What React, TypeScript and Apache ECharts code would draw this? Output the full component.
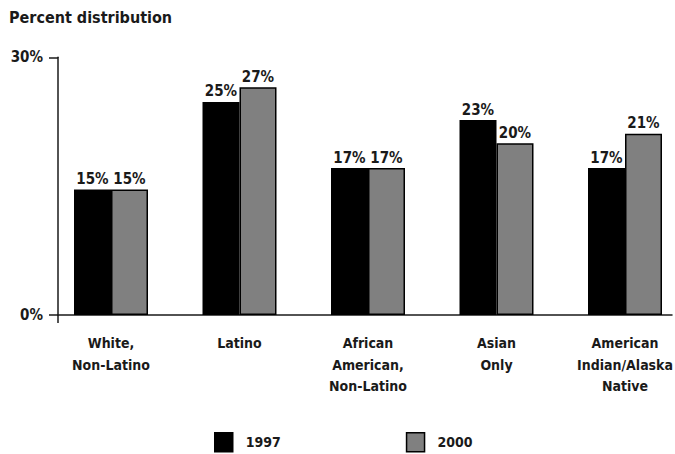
import React, { useEffect, useRef } from "react";
import * as echarts from "echarts";

const categories = [
  "White,\nNon-Latino",
  "Latino",
  "African\nAmerican,\nNon-Latino",
  "Asian\nOnly",
  "American\nIndian/Alaska\nNative",
];
// bar heights as drawn (percent)
const values1997 = [14.6, 24.8, 17.1, 22.7, 17.1];
const values2000 = [14.6, 26.5, 17.1, 20.0, 21.1];
// printed labels
const labels1997 = ["15%", "25%", "17%", "23%", "17%"];
const labels2000 = ["15%", "27%", "17%", "20%", "21%"];
const seriesNames = ["1997", "2000"];
const yTicks = [0, 30];

const FONT = "'DejaVu Sans Condensed', 'Liberation Sans Narrow', 'DejaVu Sans', sans-serif";
const INK = "#1a1a1a";

export default function App() {
  const ref = useRef<HTMLDivElement>(null);
  useEffect(() => {
    if (!ref.current) return;
    const chart = echarts.init(ref.current, undefined, { renderer: "svg" });
    const top = 57.3;
    const height = 257.7;
    const option: any = {
      animation: false,
      backgroundColor: "#ffffff",
      textStyle: { fontFamily: FONT, color: INK },
      title: {
        text: "Percent distribution",
        left: 9,
        top: 9,
        padding: 0,
        textStyle: { fontFamily: FONT, fontSize: 16, fontWeight: "bold", color: INK },
      },
      legend: {
        data: seriesNames,
        left: 214,
        top: 432,
        padding: 0,
        itemWidth: 18,
        itemHeight: 19,
        itemGap: 125,
        icon: "rect",
        itemStyle: { borderColor: "#000", borderWidth: 1.5 },
        textStyle: {
          fontFamily: FONT,
          fontSize: 14,
          fontWeight: "bold",
          color: INK,
          padding: [4, 0, 0, 8],
        },
      },
      grid: [
        { left: 46.75, width: 642.5, top, height, containLabel: false, outerBoundsMode: "none" },
        { left: 58, width: 614, top, height, containLabel: false, outerBoundsMode: "none" },
      ],
      xAxis: [
        {
          type: "category",
          gridIndex: 0,
          data: categories,
          axisLine: { show: false },
          axisTick: { show: false },
          axisLabel: {
            interval: 0,
            margin: 17,
            fontFamily: FONT,
            fontSize: 14,
            fontWeight: "bold",
            lineHeight: 21.7,
            color: INK,
          },
        },
        {
          type: "value",
          gridIndex: 1,
          min: 0,
          max: 1,
          axisLine: { show: true, lineStyle: { color: INK, width: 1.5 } },
          axisTick: { show: false },
          axisLabel: { show: false },
          splitLine: { show: false },
        },
      ],
      yAxis: [
        {
          type: "value",
          gridIndex: 0,
          min: 0,
          max: 30,
          show: false,
        },
        {
          type: "value",
          gridIndex: 1,
          min: yTicks[0],
          max: yTicks[1],
          interval: 30,
          axisLine: { show: true, lineStyle: { color: INK, width: 1.5 } },
          axisTick: { show: true, length: 9, lineStyle: { color: INK, width: 1.5 } },
          axisLabel: {
            formatter: "{value}%",
            margin: 15,
            fontFamily: FONT,
            fontSize: 15,
            fontWeight: "bold",
            color: INK,
          },
          splitLine: { show: false },
        },
      ],
      graphic: [
        {
          type: "line",
          shape: { x1: 58, y1: 315, x2: 58, y2: 323 },
          style: { stroke: INK, lineWidth: 1.5 },
        },
      ],
      series: [
        {
          name: seriesNames[0],
          type: "bar",
          xAxisIndex: 0,
          yAxisIndex: 0,
          data: values1997,
          barWidth: 37,
          barGap: "0%",
          itemStyle: { color: "#000000", borderColor: "#000", borderWidth: 1.5 },
          label: {
            show: true,
            position: "top",
            distance: 3,
            formatter: (p: any) => labels1997[p.dataIndex],
            fontFamily: FONT,
            fontSize: 15,
            fontWeight: "bold",
            color: INK,
          },
        },
        {
          name: seriesNames[1],
          type: "bar",
          xAxisIndex: 0,
          yAxisIndex: 0,
          data: values2000,
          barWidth: 37,
          barGap: "0%",
          itemStyle: { color: "#808080", borderColor: "#000", borderWidth: 1.5 },
          label: {
            show: true,
            position: "top",
            distance: 3,
            formatter: (p: any) => labels2000[p.dataIndex],
            fontFamily: FONT,
            fontSize: 15,
            fontWeight: "bold",
            color: INK,
          },
        },
      ],
    };
    chart.setOption(option);
    return () => chart.dispose();
  }, []);
  return (
    <div
      ref={ref}
      style={{ position: "fixed", left: 0, top: 0, width: 675, height: 454, background: "#fff" }}
    />
  );
}
